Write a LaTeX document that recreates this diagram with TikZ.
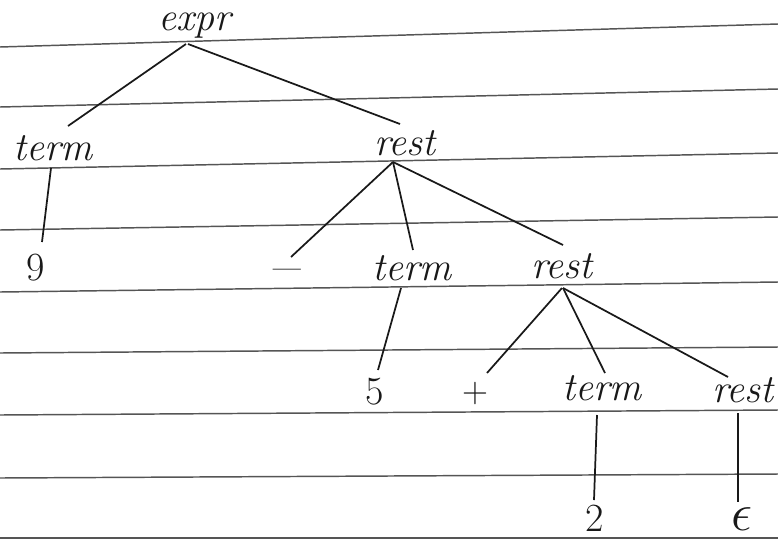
\documentclass[tikz,border=0pt]{standalone}
\usepackage{graphicx}
\usetikzlibrary{calc}
\definecolor{rulecol}{RGB}{85,85,85}
\definecolor{ink}{RGB}{25,25,25}
\begin{document}
\begin{tikzpicture}[x=0.75pt,y=-0.75pt,
  word/.style={font=\fontsize{30}{36}\selectfont\itshape, text=ink, inner sep=0pt},
  sym/.style={font=\fontsize{30}{36}\selectfont, text=ink, inner sep=0pt},
  edge/.style={draw=ink, line width=1.3pt},
  ruling/.style={draw=rulecol, line width=1.1pt}]
\useasboundingbox (0,0) rectangle (778,540);
\fill[white] (0,0) rectangle (778,540);
% ruled paper
\draw[ruling] (0,47) -- (778,24);
\draw[ruling] (0,107) -- (778,89);
\draw[ruling] (0,169) -- (778,153);
\draw[ruling] (0,230) -- (778,217);
\draw[ruling] (0,292) -- (778,282);
\draw[ruling] (0,353) -- (778,347);
\draw[ruling] (0,415) -- (778,410);
\draw[ruling] (0,478) -- (778,474);
\draw[ruling] (0,538) -- (778,538);
% nodes
\node[word] (expr) at (195,26) {expr};
\node[word] (t1) at (53,148) {term};
\node[word] (r1) at (405,143) {rest};
\node[sym] (n9) at (36,268) {9};
\node[sym] (minus) at (287,276) {\scalebox{1.5}[1.3]{--}};
\node[word] (t2) at (412,268) {term};
\node[word] (r2) at (562,266) {rest};
\node[sym] (n5) at (375,392) {5};
\node[sym] (plus) at (475,394) {\scalebox{0.9}{+}};
\node[word] (t3) at (602,388) {term};
\node[word] (r3) at (743,390) {rest};
\node[sym] (n2) at (595,518) {2};
\node[sym] (eps) at (742,519) {\scalebox{1.6}{$\epsilon$}};
% connectors
\draw[edge] ([shift={(-9,18)}]expr.center) -- ([shift={(15,-22)}]t1.center);
\draw[edge] ([shift={(-7,18)}]expr.center) -- ([shift={(-5,-19)}]r1.center);
\draw[edge] ([shift={(-2,20)}]t1.center) -- ([shift={(6,-26)}]n9.center);
\draw[edge] ([shift={(-12,19)}]r1.center) -- ([shift={(4,-19)}]minus.center);
\draw[edge] ([shift={(-12,19)}]r1.center) -- ([shift={(1,-18)}]t2.center);
\draw[edge] ([shift={(-12,19)}]r1.center) -- ([shift={(1,-21)}]r2.center);
\draw[edge] ([shift={(-11,20)}]t2.center) -- ([shift={(3,-22)}]n5.center);
\draw[edge] ([shift={(0,22)}]r2.center) -- ([shift={(12,-21)}]plus.center);
\draw[edge] ([shift={(1,22)}]r2.center) -- ([shift={(3,-15)}]t3.center);
\draw[edge] ([shift={(1,22)}]r2.center) -- ([shift={(-15,-13)}]r3.center);
\draw[edge] ([shift={(-5,27)}]t3.center) -- ([shift={(-1,-18)}]n2.center);
\draw[edge] ([shift={(-5,23)}]r3.center) -- ([shift={(-4,-17)}]eps.center);
\end{tikzpicture}
\end{document}
